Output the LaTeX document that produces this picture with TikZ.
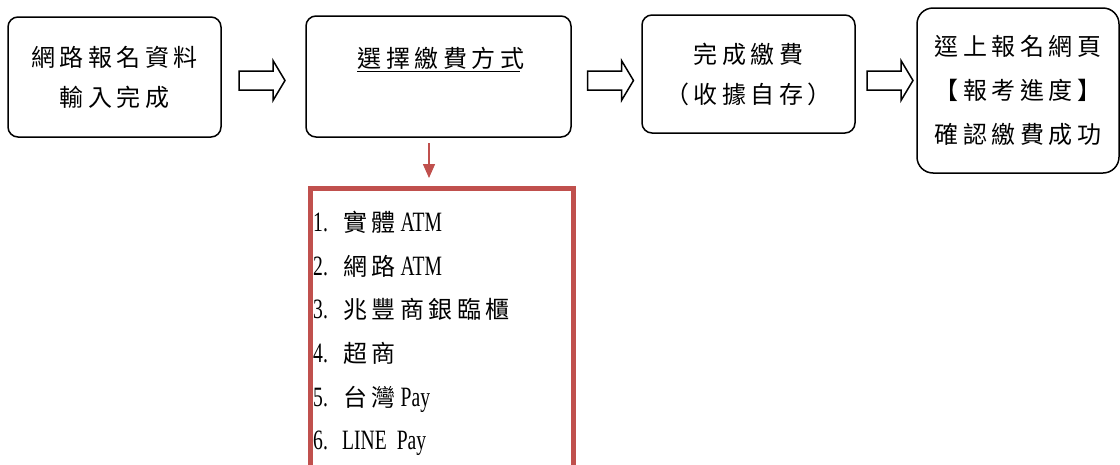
\documentclass[tikz,border=0pt]{standalone}
\usepackage{fontspec}
\setmainfont{Liberation Serif}[FakeStretch=0.7]
\newfontfamily\cjk[LetterSpace=19]{Noto Sans CJK TC}
\usetikzlibrary{arrows.meta,calc}
\definecolor{redbox}{HTML}{C0504D}
\newcommand\zh[1]{{\cjk\fontsize{24}{30}\selectfont #1}}
\newcommand\itemno[1]{\makebox[30pt][l]{#1}}
\tikzset{
  box/.style={draw, line width=1.5pt, rounded corners=10pt, inner sep=0pt, align=center,
    font=\cjk\fontsize{24}{40}\selectfont},
  blockarrow/.style={draw, line width=1.5pt, line join=miter, fill=white},
  pics/hollowarrow/.style={code={
    \draw[blockarrow] (-23,-9.5) -- (11,-9.5) -- (11,-20) -- (23,0) -- (11,20) -- (11,9.5) -- (-23,9.5) -- cycle;}},
  redframe/.style={draw=redbox, line width=5pt, inner sep=0pt},
  redarrow/.style={draw=redbox, line width=1.5pt, -{Triangle[length=14pt,width=12pt]}},
  listitem/.style={anchor=base west, inner sep=0pt, font=\fontsize{28}{30}\selectfont},
}
\begin{document}
\begin{tikzpicture}[x=1pt,y=-1pt]
\path[use as bounding box] (0,0) rectangle (1120,464);
\clip (0,0) rectangle (1120,464);

% boxes
\node[box, minimum width=213pt, minimum height=120pt] (b1) at (114.5,77) {網路報名資料\\輸入完成};
\node[box, minimum width=265pt, minimum height=121pt] (b2) at (438.5,76.5) {};
\node[inner sep=0pt, font=\cjk\fontsize{24}{40}\selectfont] (t2) at (441,58) {選擇繳費方式};
\draw[line width=1.2pt] ([yshift=-4pt]t2.base west) -- ([yshift=-4pt,xshift=-4.6pt]t2.base east);
\node[box, minimum width=213pt, minimum height=118pt] (b3) at (748.5,74) {完成繳費\\（收據自存）};
\node[box, rounded corners=16pt, minimum width=202pt, minimum height=165pt,
      font=\cjk\fontsize{24}{44}\selectfont] (b4) at (1018,90.5) {逕上報名網頁\\【報考進度】\\確認繳費成功};

% hollow arrows
\coordinate (row) at (0,80.5);
\coordinate (m1) at ($(b1.east)!0.5!(b2.west)$);
\coordinate (m2) at ($(b2.east)!0.5!(b3.west)$);
\coordinate (m3) at ($(b3.east)!0.5!(b4.west)$);
\pic at ([xshift=-1.5pt]m1 |- row) {hollowarrow};
\pic at ([xshift=4pt]m2 |- row) {hollowarrow};
\pic at ([xshift=4pt]m3 |- row) {hollowarrow};

% red list
\node[redframe, anchor=north west, minimum width=263.5pt, minimum height=280.5pt] (list) at (307.5,185.5) {};
\coordinate (ra) at (429,143);
\draw[redarrow, shorten >=7.5pt] (ra) -- (ra |- list.north);

\node[listitem] (i1) at (313,231) {\itemno{1.}\zh{實體} ATM};
\node[listitem] (i2) at (313,275) {\itemno{2.}\zh{網路} ATM};
\node[listitem] (i3) at (313,318.5) {\itemno{3.}\zh{兆豐商銀臨櫃}};
\node[listitem] (i4) at (313,362) {\itemno{4.}\zh{超商}};
\node[listitem] (i5) at (313,406) {\itemno{5.}\zh{台灣} Pay};
\node[listitem] (i6) at (313,449) {\makebox[29pt][l]{6.}LINE\hspace{10pt}Pay};
\end{tikzpicture}
\end{document}
